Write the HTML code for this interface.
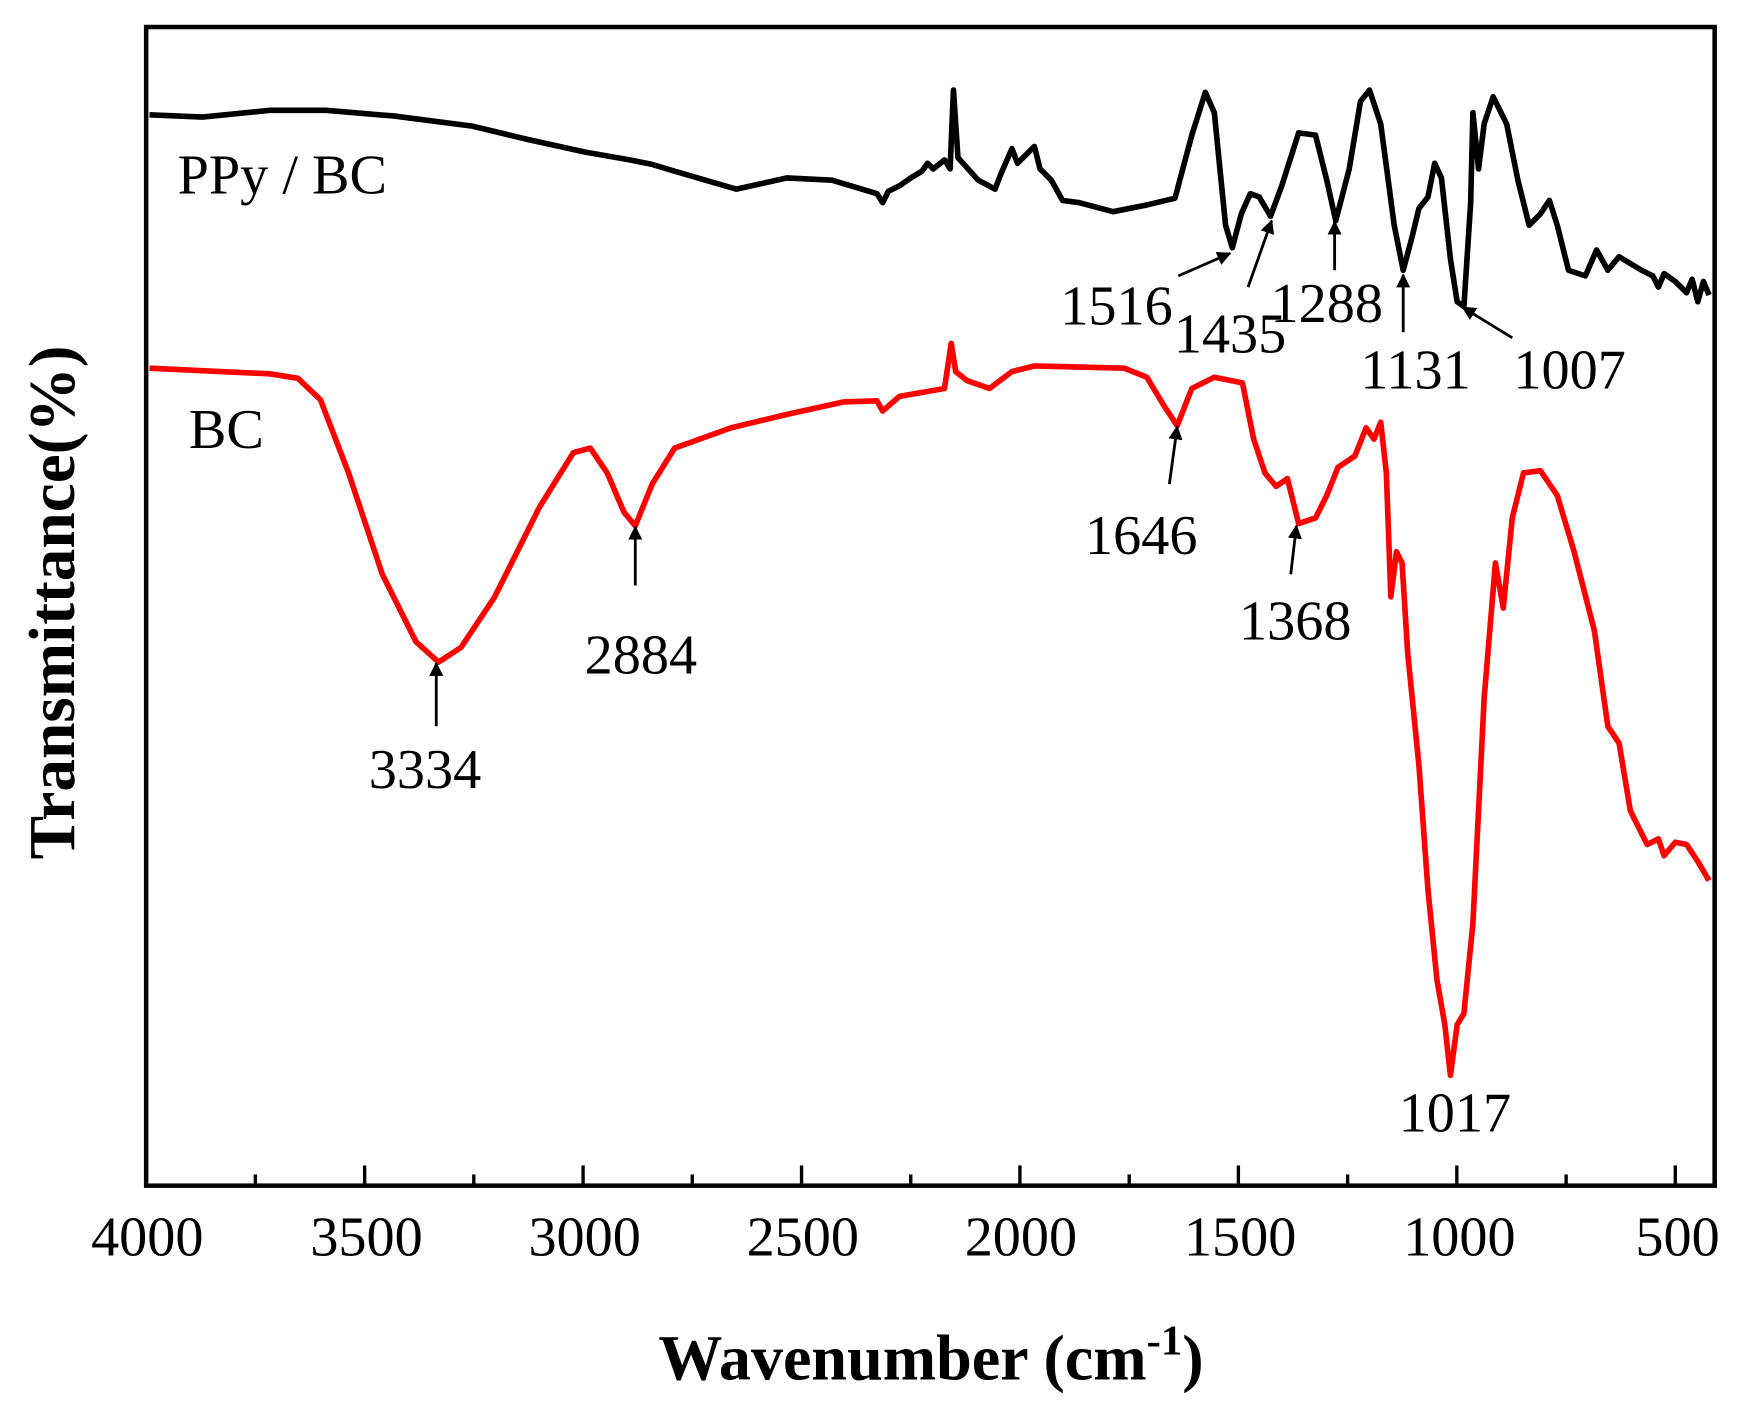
<!DOCTYPE html>
<html><head><meta charset="utf-8"><style>html,body{margin:0;padding:0;background:#fff}svg{display:block}</style></head>
<body>
<svg width="1763" height="1412" viewBox="0 0 1568 1254" preserveAspectRatio="none" xmlns="http://www.w3.org/2000/svg" font-family="Liberation Serif, serif">
<defs><marker id="a" viewBox="0 0 10 10" refX="9" refY="5" markerWidth="5" markerHeight="5" orient="auto"><path d="M0,0 L10,5 L0,10 z" fill="#000"/></marker></defs>
<rect x="130" y="24" width="1395" height="1029" fill="none" stroke="#000" stroke-width="4"/>
<g stroke="#000" stroke-width="3">
<line x1="130" y1="1053" x2="130" y2="1035"/><line x1="324.3" y1="1053" x2="324.3" y2="1035"/><line x1="518.6" y1="1053" x2="518.6" y2="1035"/><line x1="712.9" y1="1053" x2="712.9" y2="1035"/><line x1="907.1" y1="1053" x2="907.1" y2="1035"/><line x1="1101.4" y1="1053" x2="1101.4" y2="1035"/><line x1="1295.7" y1="1053" x2="1295.7" y2="1035"/><line x1="1490" y1="1053" x2="1490" y2="1035"/>
<line x1="227.1" y1="1053" x2="227.1" y2="1043"/><line x1="421.4" y1="1053" x2="421.4" y2="1043"/><line x1="615.7" y1="1053" x2="615.7" y2="1043"/><line x1="810" y1="1053" x2="810" y2="1043"/><line x1="1004.3" y1="1053" x2="1004.3" y2="1043"/><line x1="1198.6" y1="1053" x2="1198.6" y2="1043"/><line x1="1392.9" y1="1053" x2="1392.9" y2="1043"/>
</g>
<g font-size="50" text-anchor="middle">
<text x="131" y="1115">4000</text><text x="326" y="1115">3500</text><text x="520" y="1115">3000</text><text x="714" y="1115">2500</text><text x="908" y="1115">2000</text><text x="1103" y="1115">1500</text><text x="1298" y="1115">1000</text><text x="1492" y="1115">500</text>
</g>
<text x="828" y="1225" font-size="57" font-weight="bold" text-anchor="middle">Wavenumber (cm<tspan dy="-22" font-size="38">-1</tspan><tspan dy="22">)</tspan></text>
<text transform="translate(66,535) rotate(-90)" font-size="58" font-weight="bold" text-anchor="middle">Transmittance(%)</text>
<polyline fill="none" stroke="#000" stroke-width="5" stroke-linejoin="round" points="133,102 180,104 240,98 290,98 350,103 420,112 470,124 520,135 560,142 580,146 600,152 655,168 700,158 740,160 780,172 785,180 790,170 800,165 810,158 820,152 825,145 830,150 840,142 845,150 848,80 852,140 870,160 885,168 890,155 900,132 905,145 910,140 915,135 920,130 925,150 935,160 945,178 960,180 990,188 1020,182 1045,176 1060,120 1072,82 1080,100 1090,200 1096,220 1104,190 1112,172 1120,175 1130,192 1140,165 1155,118 1170,120 1180,160 1188,196 1200,150 1210,90 1218,80 1228,110 1240,200 1248,240 1256,210 1262,185 1270,175 1276,145 1282,158 1290,230 1296,268 1302,272 1308,180 1310,100 1315,150 1320,110 1328,86 1340,110 1350,160 1360,200 1370,190 1378,178 1385,200 1395,240 1410,245 1420,222 1430,240 1440,228 1460,240 1470,245 1475,255 1480,243 1490,250 1500,260 1505,248 1510,268 1515,250 1520,262"/>
<polyline fill="none" stroke="#f00" stroke-width="5" stroke-linejoin="round" points="133,327 240,332 265,336 285,355 310,420 340,510 370,570 390,588 410,575 440,530 480,450 510,402 525,398 540,420 555,455 565,467 580,430 600,398 650,380 700,368 750,357 780,356 785,365 800,352 840,345 846,305 850,330 860,338 880,345 900,330 920,325 1000,327 1020,335 1035,360 1047,378 1060,345 1080,335 1105,340 1115,390 1125,420 1135,432 1145,425 1155,465 1170,460 1180,440 1190,415 1205,405 1215,380 1222,390 1228,375 1233,420 1237,530 1242,490 1247,500 1252,580 1262,680 1270,790 1278,870 1285,910 1290,955 1296,910 1302,900 1310,820 1320,620 1330,500 1337,540 1345,460 1355,420 1370,418 1385,440 1400,490 1418,560 1430,645 1440,660 1450,720 1465,750 1475,745 1480,760 1490,748 1500,750 1510,765 1520,782"/>
<g stroke="#000" stroke-width="2.5" marker-end="url(#a)">
<line x1="388" y1="645" x2="388" y2="589"/><line x1="565" y1="520" x2="565" y2="468"/><line x1="1040" y1="430" x2="1047" y2="379"/><line x1="1148" y1="510" x2="1153" y2="467"/>
<line x1="1048" y1="245" x2="1094" y2="225"/><line x1="1110" y1="255" x2="1131" y2="196"/><line x1="1187" y1="240" x2="1187" y2="197"/><line x1="1248" y1="295" x2="1248" y2="244"/><line x1="1345" y1="300" x2="1301" y2="273"/>
</g>
<g font-size="50">
<text x="158" y="172">PPy / BC</text><text x="168" y="398">BC</text>
<g text-anchor="middle">
<text x="378" y="700">3334</text><text x="570" y="598">2884</text><text x="1015" y="492">1646</text><text x="1152" y="568">1368</text>
<text x="993" y="288">1516</text><text x="1094" y="313">1435</text><text x="1180" y="286">1288</text><text x="1259" y="345">1131</text><text x="1396" y="345">1007</text><text x="1294" y="1005">1017</text>
</g></g>
</svg>
</body></html>
